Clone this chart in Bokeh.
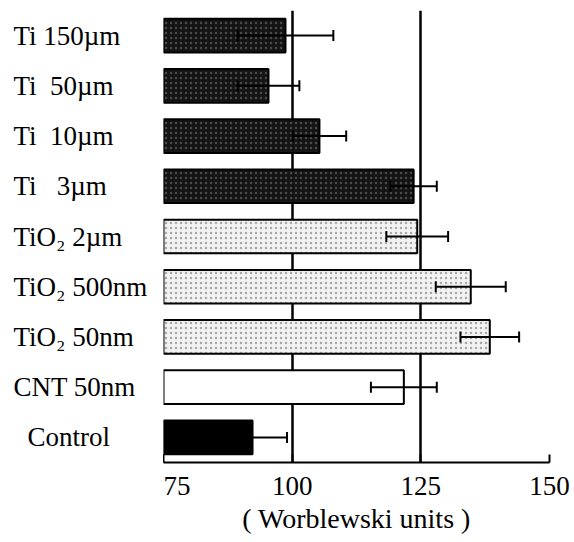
from bokeh.plotting import figure
from bokeh.layouts import row
from bokeh.models import ColumnDataSource, FactorRange, Whisker, FixedTicker, TeeHead, Range1d
from bokeh.core.properties import value
from bokeh.embed import file_html
from bokeh.resources import INLINE

# ---- data ----
categories = ["Ti 150µm", "Ti\u00a0 50µm", "Ti\u00a0 10µm", "Ti\u00a0\u00a0 3µm", "TiO₂ 2µm",
              "TiO₂ 500nm", "TiO₂ 50nm", "CNT 50nm", "Control"]
means = [98.7, 95.4, 105.3, 123.6, 124.3, 134.7, 138.4, 121.7, 92.3]
errors = [9.3, 6.0, 5.2, 4.5, 6.0, 6.8, 5.7, 6.4, 6.7]
groups = ["Ti", "Ti", "Ti", "Ti", "TiO2", "TiO2", "TiO2", "CNT", "Control"]
x_ticks = [75, 100, 125, 150]
x_title = "( Worblewski units )"

# ---- styles ----
fill_map = {"Ti": "#141414", "TiO2": "#f2f2f2", "CNT": "white", "Control": "black"}
hatch_map = {"Ti": "dot", "TiO2": "dot", "CNT": " ", "Control": " "}
hatch_col_map = {"Ti": "#777777", "TiO2": "#6a6a6a", "CNT": "white", "Control": "black"}
FONT = "Liberation Serif"
TOP, BOTTOM, FRAME_H = 10, 80, 452

src = ColumnDataSource(dict(
    cat=categories,
    mean=means,
    lower=[m - e for m, e in zip(means, errors)],
    upper=[m + e for m, e in zip(means, errors)],
    fill=[fill_map[g] for g in groups],
    hatch=[hatch_map[g] for g in groups],
    hcol=[hatch_col_map[g] for g in groups],
))

yr = FactorRange(factors=list(reversed(categories)), range_padding=0)

# ---- label column (left) ----
lp = figure(y_range=yr, x_range=Range1d(0, 1),
            frame_width=163, frame_height=FRAME_H,
            min_border_left=0, min_border_right=0,
            min_border_top=TOP, min_border_bottom=BOTTOM,
            output_backend="svg", toolbar_location=None)
lp.axis.visible = False
lp.grid.visible = False
lp.outline_line_color = None
lp.background_fill_color = "white"
lp.border_fill_color = "white"
lab_src = ColumnDataSource(dict(cat=categories[:-1], x=[0] * (len(categories) - 1)))
lp.text(x="x", y="cat", text="cat", source=lab_src, x_offset=13,
        text_align="left", text_baseline="middle",
        text_font=value(FONT), text_font_size="27px", text_color="black")
ctrl_src = ColumnDataSource(dict(cat=categories[-1:], x=[0]))
lp.text(x="x", y="cat", text="cat", source=ctrl_src, x_offset=27,
        text_align="left", text_baseline="middle",
        text_font=value(FONT), text_font_size="27px", text_color="black")

# ---- bar chart ----
p = figure(
    y_range=yr,
    x_range=(x_ticks[0], x_ticks[-1]),
    frame_width=386, frame_height=FRAME_H,
    min_border_left=0, min_border_right=25, min_border_top=TOP, min_border_bottom=BOTTOM,
    output_backend="svg", toolbar_location=None,
)
p.background_fill_color = "white"
p.border_fill_color = "white"
p.outline_line_color = None
p.yaxis.visible = False

p.hbar(y="cat", left=x_ticks[0], right="mean", height=0.67, source=src,
       fill_color="fill", line_color="black", line_width=2,
       hatch_pattern="hatch", hatch_color="hcol", hatch_alpha=0.55,
       hatch_scale=5, hatch_weight=1)

w = Whisker(source=src, base="cat", lower="lower", upper="upper", dimension="width",
            line_color="black", line_width=2, level="annotation",
            upper_head=TeeHead(size=11, line_width=2, line_color="black"),
            lower_head=TeeHead(size=11, line_width=2, line_color="black"))
p.add_layout(w)

# grid: left edge line (75) plus the lines at 100 and 125
p.ygrid.grid_line_color = None
p.xgrid.ticker = FixedTicker(ticks=x_ticks[0:3])
p.xgrid.grid_line_color = "black"
p.xgrid.grid_line_width = 2.5
p.xgrid.grid_line_alpha = 1

# x axis
xa = p.xaxis[0]
xa.ticker = FixedTicker(ticks=x_ticks)
xa.axis_line_width = 2
xa.axis_line_color = "black"
xa.major_tick_in = 8
xa.major_tick_out = 0
xa.major_tick_line_width = 2
xa.minor_tick_line_color = None
xa.major_label_text_font = FONT
xa.major_label_text_font_size = "27px"
xa.major_label_text_color = "black"
xa.major_label_standoff = 14
xa.axis_label = x_title
xa.axis_label_text_font = FONT
xa.axis_label_text_font_size = "28px"
xa.axis_label_text_font_style = "normal"
xa.axis_label_text_color = "black"
xa.axis_label_standoff = 5

layout = row(lp, p, spacing=0)
open("out.html", "w").write(file_html(layout, INLINE))
